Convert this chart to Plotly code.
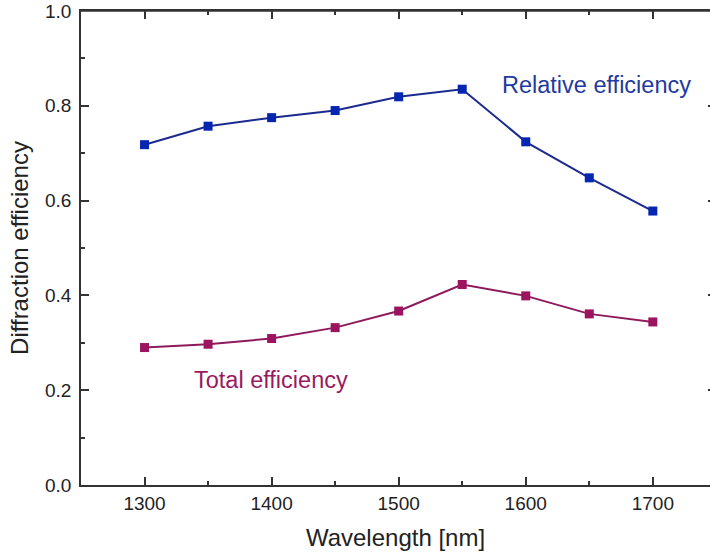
import plotly.graph_objects as go

wavelength = [1300, 1350, 1400, 1450, 1500, 1550, 1600, 1650, 1700]
relative_eff = [0.718, 0.757, 0.775, 0.790, 0.819, 0.835, 0.724, 0.648, 0.578]
total_eff = [0.290, 0.297, 0.309, 0.332, 0.367, 0.423, 0.399, 0.361, 0.344]
x_ticks = [1300, 1400, 1500, 1600, 1700]
y_ticks = [0.0, 0.2, 0.4, 0.6, 0.8, 1.0]

BLUE_LINE = "#1b2a8f"
BLUE_MK = "#0526b0"
PURPLE_LINE = "#8e1a5c"
PURPLE_MK = "#9c145f"
FONT = "Liberation Sans, Arial, sans-serif"
AX = "#333333"

fig = go.Figure()
fig.add_trace(go.Scatter(
    x=wavelength, y=relative_eff, mode="lines+markers",
    line=dict(color=BLUE_LINE, width=2),
    marker=dict(symbol="square", size=9, color=BLUE_MK, line=dict(width=0)),
    showlegend=False))
fig.add_trace(go.Scatter(
    x=wavelength, y=total_eff, mode="lines+markers",
    line=dict(color=PURPLE_LINE, width=2),
    marker=dict(symbol="square", size=9, color=PURPLE_MK, line=dict(width=0)),
    showlegend=False))
# invisible traces that carry the top x axis and the right y axis (frame ticks)
fig.add_trace(go.Scatter(x=[None], y=[None], xaxis="x2", yaxis="y", showlegend=False, hoverinfo="skip"))
fig.add_trace(go.Scatter(x=[None], y=[None], xaxis="x", yaxis="y2", showlegend=False, hoverinfo="skip"))

fig.add_annotation(x=1656, y=0.844, xref="x", yref="y", text="Relative efficiency",
                   showarrow=False, font=dict(family=FONT, size=23.5, color="#1f3aa0"))
fig.add_annotation(x=1399.5, y=0.2215, xref="x", yref="y", text="Total efficiency",
                   showarrow=False, font=dict(family=FONT, size=23.5, color="#9a1a62"))

# top frame line of the plot box
fig.add_shape(type="line", xref="paper", yref="paper", x0=0, x1=1, y0=1, y1=1,
              line=dict(color=AX, width=1.5), layer="above")

axis_common = dict(showline=True, linecolor=AX, linewidth=1.5,
                   ticks="inside", ticklen=8, tickwidth=1.5, tickcolor=AX,
                   showgrid=False, zeroline=False, automargin=False,
                   tickfont=dict(family=FONT, size=19, color="#222222"))

fig.update_layout(
    width=710, height=555,
    margin=dict(l=81, r=0, t=11, b=70),
    plot_bgcolor="white", paper_bgcolor="white",
    xaxis=dict(range=[1250, 1745], tickvals=x_ticks,
               minor=dict(ticks="inside", ticklen=4, tickcolor=AX, dtick=50, tick0=1250),
               title=dict(text="Wavelength [nm]", font=dict(family=FONT, size=24, color="#222222"), standoff=17),
               **axis_common),
    xaxis2=dict(range=[1250, 1745], overlaying="x", side="top", anchor="y",
                showline=True, linecolor=AX, linewidth=1.5,
                tickvals=x_ticks, ticks="inside", ticklen=8, tickwidth=1.5, tickcolor=AX,
                minor=dict(ticks="inside", ticklen=4, tickcolor=AX, dtick=50, tick0=1250),
                showticklabels=False, showgrid=False, zeroline=False, automargin=False),
    yaxis=dict(range=[0, 1.0], tickvals=y_ticks, tickformat=".1f",
               ticklabelstandoff=4,
               minor=dict(ticks="inside", ticklen=4, tickcolor=AX, dtick=0.1, tick0=0),
               title=dict(text="Diffraction efficiency", font=dict(family=FONT, size=24, color="#222222"), standoff=10),
               **axis_common),
    yaxis2=dict(range=[0, 1.0], overlaying="y", side="right", anchor="x", showline=False,
                tickvals=y_ticks, ticks="inside", ticklen=2, tickwidth=1.5, tickcolor=AX,
                showticklabels=False, showgrid=False, zeroline=False, automargin=False),
)

# remove the page's default 8px body margin so the figure fills the window exactly
fig.write_html("out.html", config={"displayModeBar": False},
               post_script="document.body.style.margin='0';document.body.style.overflow='hidden';")
